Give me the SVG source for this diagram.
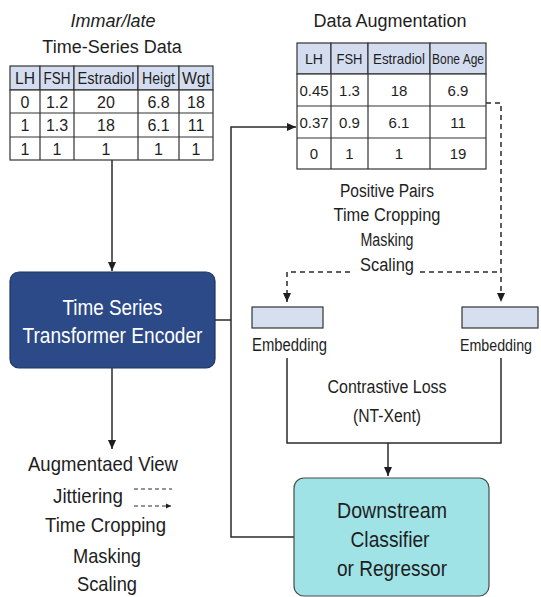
<svg xmlns="http://www.w3.org/2000/svg" width="541" height="597" viewBox="0 0 541 597">
<defs>
<style>
.t{font-family:"Liberation Sans",Arial,sans-serif;fill:#1e1e1e;text-anchor:middle}
.ti{font-family:"Liberation Sans",Arial,sans-serif;fill:#1e1e1e;text-anchor:middle;font-size:18px}
.cell{fill:#ffffff;stroke:#333;stroke-width:1.2}
.hdr{fill:#d4ddef;stroke:#333;stroke-width:1.2}
.ln{fill:none;stroke:#2a2a2a;stroke-width:1.5}
.dash{fill:none;stroke:#2a2a2a;stroke-width:1.5;stroke-dasharray:5 4}
.tb{font-size:16px}
.tb2{font-size:15px}
</style>
<marker id="ah" markerWidth="10" markerHeight="10" refX="9" refY="5" orient="auto" markerUnits="userSpaceOnUse">
<path d="M0,1 L9,5 L0,9 Z" fill="#1e1e1e"/>
</marker>
<marker id="ahs" markerWidth="6" markerHeight="6" refX="5" refY="3" orient="auto" markerUnits="userSpaceOnUse">
<path d="M0,0.5 L5,3 L0,5.5 Z" fill="#1e1e1e"/>
</marker>
</defs>
<rect width="541" height="597" fill="#ffffff"/>

<g id="connectors">
<path class="ln" d="M112,160 V271" marker-end="url(#ah)"/>
<path class="ln" d="M112,368 V449" marker-end="url(#ah)"/>
<path class="ln" d="M215,320 H231"/>
<path class="ln" d="M294,537 H231 V127 H296" marker-end="url(#ah)"/>
<path class="dash" d="M486,103 H501 V302" marker-end="url(#ah)"/>
<path class="dash" d="M420,272 H501"/>
<path class="dash" d="M350,272 H287 V302" marker-end="url(#ah)"/>
<path class="ln" d="M287,358 V443 H501 V358"/>
<path class="ln" d="M388,443 V476" marker-end="url(#ah)"/>
</g>

<g id="input-data">
<text class="ti" x="113" y="27" font-style="italic">Immar/late</text>
<text class="ti" x="112" y="53">Time-Series Data</text>
<rect class="hdr" x="10" y="66" width="30" height="24"/>
<rect class="hdr" x="40" y="66" width="34" height="24"/>
<rect class="hdr" x="74" y="66" width="64" height="24"/>
<rect class="hdr" x="138" y="66" width="41" height="24"/>
<rect class="hdr" x="179" y="66" width="34" height="24"/>
<rect class="cell" x="10" y="90" width="203" height="70"/>
<path class="cell" d="M10,113 H213 M10,137 H213 M40,90 V160 M74,90 V160 M138,90 V160 M179,90 V160"/>
<g class="t tb">
<text x="25" y="84" textLength="20" lengthAdjust="spacingAndGlyphs">LH</text><text x="57" y="84" textLength="27" lengthAdjust="spacingAndGlyphs">FSH</text><text x="106" y="84" textLength="57" lengthAdjust="spacingAndGlyphs">Estradiol</text><text x="158.5" y="84" textLength="33" lengthAdjust="spacingAndGlyphs">Heigt</text><text x="196" y="84" textLength="28" lengthAdjust="spacingAndGlyphs">Wgt</text>
<text x="25" y="108">0</text><text x="57" y="108">1.2</text><text x="106" y="108">20</text><text x="158.5" y="108">6.8</text><text x="196" y="108">18</text>
<text x="25" y="131">1</text><text x="57" y="131">1.3</text><text x="106" y="131">18</text><text x="158.5" y="131">6.1</text><text x="196" y="131">11</text>
<text x="25" y="155">1</text><text x="57" y="155">1</text><text x="106" y="155">1</text><text x="158.5" y="155">1</text><text x="196" y="155">1</text>
</g>
</g>

<g id="data-augmentation">
<text class="ti" x="390" y="27">Data Augmentation</text>
<rect class="hdr" x="297" y="43" width="34" height="31"/>
<rect class="hdr" x="331" y="43" width="37" height="31"/>
<rect class="hdr" x="368" y="43" width="62" height="31"/>
<rect class="hdr" x="430" y="43" width="56" height="31"/>
<rect class="cell" x="297" y="74" width="189" height="95"/>
<path class="cell" d="M297,106 H486 M297,138 H486 M331,74 V169 M368,74 V169 M430,74 V169"/>
<g class="t tb2">
<text x="314" y="64" textLength="18" lengthAdjust="spacingAndGlyphs">LH</text><text x="349.5" y="64" textLength="26" lengthAdjust="spacingAndGlyphs">FSH</text><text x="399" y="64" textLength="52" lengthAdjust="spacingAndGlyphs">Estradiol</text><text x="458" y="64" font-size="14" textLength="52" lengthAdjust="spacingAndGlyphs">Bone Age</text>
<text x="314" y="96">0.45</text><text x="349.5" y="96">1.3</text><text x="399" y="96">18</text><text x="458" y="96">6.9</text>
<text x="314" y="128">0.37</text><text x="349.5" y="128">0.9</text><text x="399" y="128">6.1</text><text x="458" y="128">11</text>
<text x="314" y="159">0</text><text x="349.5" y="159">1</text><text x="399" y="159">1</text><text x="458" y="159">19</text>
</g>
</g>

<g id="positive-pairs">
<text class="t" font-size="18" x="387" y="197" textLength="94" lengthAdjust="spacingAndGlyphs">Positive Pairs</text>
<text class="t" font-size="18" x="387" y="221" textLength="107" lengthAdjust="spacingAndGlyphs">Time Cropping</text>
<text class="t" font-size="18" x="387" y="246" textLength="53" lengthAdjust="spacingAndGlyphs">Masking</text>
<text class="t" font-size="18" x="387" y="271" textLength="54" lengthAdjust="spacingAndGlyphs">Scaling</text>
</g>

<g id="encoder">
<rect x="10" y="272" width="205" height="96" rx="9" fill="#2c4a87" stroke="#1f355f" stroke-width="1.2"/>
<text class="t" font-size="22" x="112.5" y="315" style="fill:#ffffff" textLength="100" lengthAdjust="spacingAndGlyphs">Time Series</text>
<text class="t" font-size="22" x="112.5" y="343" style="fill:#ffffff" textLength="180" lengthAdjust="spacingAndGlyphs">Transformer Encoder</text>
</g>

<g id="embedding-left">
<rect x="252" y="307" width="71" height="21" fill="#d5dff0" stroke="#333" stroke-width="1.2"/>
<text class="t" font-size="18" x="289.5" y="351" textLength="75" lengthAdjust="spacingAndGlyphs">Embedding</text>
</g>

<g id="embedding-right">
<rect x="462" y="307" width="76" height="21" fill="#d5dff0" stroke="#333" stroke-width="1.2"/>
<text class="t" font-size="16" x="496" y="351" textLength="72" lengthAdjust="spacingAndGlyphs">Embedding</text>
</g>

<g id="contrastive-loss">
<text class="t" font-size="18" x="387" y="393" textLength="119" lengthAdjust="spacingAndGlyphs">Contrastive Loss</text>
<text class="t" font-size="18" x="387" y="422" textLength="68" lengthAdjust="spacingAndGlyphs">(NT-Xent)</text>
</g>

<g id="augmented-view">
<text class="t" font-size="21" x="103" y="471" textLength="150" lengthAdjust="spacingAndGlyphs">Augmentaed View</text>
<text class="t" font-size="20" x="88" y="503" textLength="70" lengthAdjust="spacingAndGlyphs">Jittiering</text>
<path class="dash" d="M134,489 H172" style="stroke-width:1;stroke-dasharray:4 3"/>
<path class="dash" d="M134,506 H171" style="stroke-width:1;stroke-dasharray:4 3" marker-end="url(#ahs)"/>
<text class="t" font-size="21" x="105.5" y="532" textLength="121" lengthAdjust="spacingAndGlyphs">Time Cropping</text>
<text class="t" font-size="21" x="107" y="563" textLength="68" lengthAdjust="spacingAndGlyphs">Masking</text>
<text class="t" font-size="21" x="107" y="591" textLength="60" lengthAdjust="spacingAndGlyphs">Scaling</text>
</g>

<g id="downstream">
<rect x="294" y="478" width="195" height="118" rx="10" fill="#a0e3e7" stroke="#4a4a4a" stroke-width="1.2"/>
<text class="t" font-size="22" x="392" y="518" textLength="110" lengthAdjust="spacingAndGlyphs">Downstream</text>
<text class="t" font-size="22" x="390" y="547" textLength="79" lengthAdjust="spacingAndGlyphs">Classifier</text>
<text class="t" font-size="22" x="392" y="576" textLength="110" lengthAdjust="spacingAndGlyphs">or Regressor</text>
</g>
</svg>
